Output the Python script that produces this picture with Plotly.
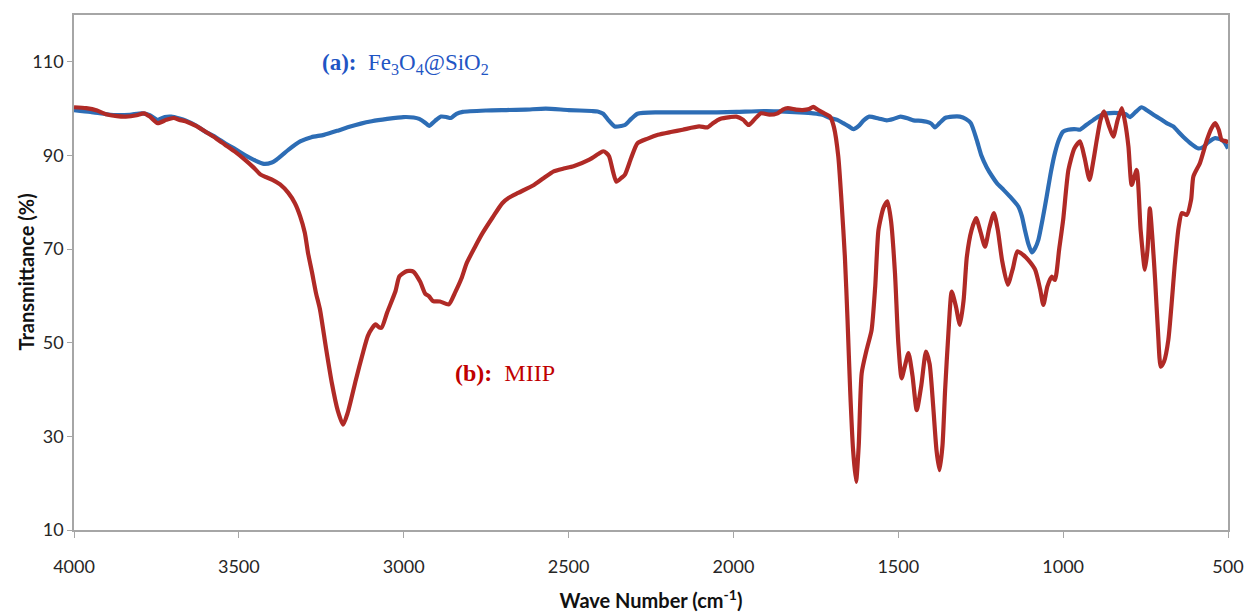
import plotly.graph_objects as go

# FT-IR spectra: wavenumber (cm^-1) and transmittance (%)
wn_a = [4000, 3950, 3900, 3867, 3830, 3794, 3770, 3746, 3725, 3705, 3680, 3662, 3630, 3602,
        3570, 3542, 3510, 3482, 3450, 3424, 3400, 3386, 3350, 3314, 3280, 3242, 3200, 3170,
        3130, 3097, 3050, 3001, 2970, 2953, 2935, 2923, 2905, 2887, 2870, 2857, 2840, 2821,
        2750, 2689, 2630, 2569, 2500, 2430, 2412, 2395, 2380, 2360, 2340, 2329, 2310, 2291,
        2229, 2150, 2050, 1991, 1900, 1859, 1800, 1758, 1730, 1707, 1685, 1667, 1650, 1636,
        1620, 1605, 1588, 1560, 1535, 1515, 1493, 1470, 1454, 1430, 1414, 1400, 1389, 1375,
        1358, 1335, 1313, 1295, 1280, 1262, 1248, 1232, 1215, 1201, 1180, 1161, 1136, 1125,
        1116, 1105, 1095, 1085, 1075, 1062, 1050, 1037, 1025, 1012, 1000, 985, 960, 949,
        930, 908, 888, 868, 845, 822, 810, 797, 780, 762, 745, 726, 705, 686, 666, 650,
        636, 612, 590, 575, 560, 539, 519, 510, 500]
t_a = [99.7, 99.3, 98.8, 98.6, 98.7, 99.0, 98.6, 97.6, 98.2, 98.3, 97.9, 97.5, 96.4, 95.1,
       93.9, 92.6, 91.3, 90.1, 88.9, 88.2, 88.5, 89.1, 91.2, 93.0, 93.9, 94.4, 95.3, 96.0,
       96.8, 97.3, 97.8, 98.2, 98.1, 97.8, 97.0, 96.3, 97.4, 98.3, 98.2, 98.0, 98.9, 99.3,
       99.6, 99.7, 99.8, 100.0, 99.7, 99.5, 99.4, 98.9, 97.6, 96.2, 96.3, 96.5, 97.8, 98.9,
       99.2, 99.2, 99.2, 99.3, 99.5, 99.4, 99.2, 99.0, 98.7, 98.0, 97.6, 96.9, 96.2, 95.6,
       96.3, 97.5, 98.3, 97.9, 97.5, 97.8, 98.3, 97.9, 97.5, 97.4, 97.2, 96.8, 96.0, 96.9,
       98.0, 98.3, 98.3, 97.8, 96.9, 93.3, 90.0, 87.5, 85.5, 84.1, 82.6, 81.2, 79.1, 77.0,
       74.1, 71.0, 69.3, 70.2, 72.0, 76.5, 81.2, 86.5, 90.5, 93.5, 95.1, 95.5, 95.6, 95.5,
       96.5, 97.6, 98.5, 99.0, 99.1, 99.0, 98.8, 98.2, 99.3, 100.3, 99.6, 98.7, 97.8, 96.9,
       96.2, 95.0, 94.0, 92.5, 91.5, 91.8, 92.8, 93.7, 93.3, 92.7, 91.5]

wn_b = [4000, 3963, 3930, 3903, 3870, 3843, 3810, 3788, 3770, 3746, 3720, 3698, 3680, 3662,
        3630, 3602, 3570, 3542, 3510, 3482, 3455, 3434, 3415, 3398, 3375, 3350, 3330, 3314,
        3300, 3290, 3278, 3266, 3254, 3236, 3218, 3200, 3184, 3170, 3145, 3125, 3109, 3095,
        3085, 3075, 3067, 3050, 3025, 3013, 2990, 2971, 2950, 2935, 2923, 2911, 2890, 2863,
        2845, 2825, 2809, 2785, 2761, 2730, 2701, 2680, 2653, 2605, 2575, 2545, 2515, 2485,
        2437, 2410, 2395, 2385, 2377, 2365, 2355, 2340, 2329, 2310, 2291, 2260, 2229, 2190,
        2154, 2104, 2079, 2060, 2041, 2010, 1991, 1970, 1954, 1935, 1916, 1891, 1866, 1850,
        1835, 1810, 1791, 1770, 1758, 1745, 1730, 1707, 1695, 1682, 1672, 1662, 1654, 1646,
        1637, 1628, 1620, 1611, 1596, 1581, 1570, 1560, 1545, 1533, 1522, 1510, 1500, 1490,
        1480, 1469, 1457, 1444, 1430, 1416, 1405, 1394, 1384, 1375, 1366, 1358, 1348, 1338,
        1326, 1313, 1302, 1292, 1278, 1264, 1250, 1237, 1224, 1210, 1198, 1185, 1168, 1152,
        1139, 1122, 1106, 1085, 1070, 1060, 1048, 1035, 1025, 1012, 1000, 984, 966, 949,
        935, 920, 908, 898, 887, 876, 862, 848, 835, 822, 812, 802, 792, 777, 765, 752,
        744, 737, 729, 721, 712, 704, 694, 681, 661, 650, 640, 625, 612, 605, 585, 564,
        550, 539, 528, 519, 504, 500]
t_b = [100.3, 100.1, 99.6, 98.8, 98.4, 98.3, 98.6, 99.0, 98.3, 96.9, 97.6, 98.0, 97.6, 97.3,
       96.3, 95.1, 93.7, 92.3, 90.7, 89.1, 87.4, 85.9, 85.3, 84.8, 83.8, 82.0, 79.8, 77.0,
       73.5, 69.1, 65.0, 60.6, 57.1, 49.0, 41.4, 35.5, 32.5, 35.0, 42.1, 47.5, 51.4, 53.2,
       53.9, 53.3, 53.2, 56.5, 61.0, 64.2, 65.3, 65.2, 63.0, 60.5, 59.9, 58.9, 58.8, 58.2,
       60.6, 63.7, 67.0, 70.3, 73.4, 76.8, 79.8, 81.0, 82.0, 83.7, 85.2, 86.6, 87.2, 87.7,
       89.1, 90.3, 90.9, 90.5, 89.8, 86.5, 84.4, 85.2, 85.9, 89.5, 92.6, 93.6, 94.4, 95.0,
       95.5, 96.2, 96.0, 97.0, 97.8, 98.2, 98.3, 97.6, 96.5, 97.8, 99.0, 98.7, 99.0, 99.8,
       100.1, 99.8, 99.7, 99.9, 100.4, 99.8, 99.2, 98.3, 96.0, 89.8, 80.0, 68.4, 55.0, 39.9,
       27.0, 20.3, 28.0, 43.5, 48.5, 52.7, 62.0, 74.1, 78.8, 80.2, 76.0, 64.8, 50.0, 42.4,
       45.0, 47.8, 43.0, 35.6, 41.0, 48.1, 45.5, 36.3, 27.0, 22.8, 28.0, 39.9, 52.0, 60.9,
       58.0, 53.8, 59.0, 68.4, 74.0, 76.6, 73.5, 70.5, 74.5, 77.7, 74.0, 67.5, 62.4, 66.0,
       69.5, 68.8, 67.7, 65.6, 61.5, 58.1, 62.0, 64.1, 63.4, 70.0, 76.2, 86.9, 91.5, 93.0,
       89.5, 84.8, 89.0, 93.3, 97.5, 99.4, 96.5, 94.0, 97.5, 100.1, 97.0, 91.9, 83.7, 86.9, 74.1, 65.6,
       70.0, 78.7, 72.0, 63.4, 52.0, 44.9, 46.0, 50.6, 67.0, 74.5, 77.7, 77.3, 80.5, 85.5, 88.4, 93.3,
       95.8, 96.9, 95.5, 93.3, 93.0, 92.6]

x_ticks = [4000, 3500, 3000, 2500, 2000, 1500, 1000, 500]
y_ticks = [10, 30, 50, 70, 90, 110]

BLUE = "#2d6db5"
RED = "#b02a26"
AXIS = "#a6a6a6"

fig = go.Figure()
fig.add_trace(go.Scatter(x=wn_a, y=t_a, mode="lines", name="Fe3O4@SiO2",
                         line=dict(color=BLUE, width=4.2, shape="spline", smoothing=0.6)))
fig.add_trace(go.Scatter(x=wn_b, y=t_b, mode="lines", name="MIIP",
                         line=dict(color=RED, width=4.2, shape="spline", smoothing=0.6)))

fig.add_annotation(x=3254, y=109.6, xref="x", yref="y", xanchor="left", yanchor="middle",
                   text="<b>(a):</b>  Fe<sub>3</sub>O<sub>4</sub>@SiO<sub>2</sub>",
                   showarrow=False,
                   font=dict(family="Liberation Serif", size=23, color="#1f55c4"))
fig.add_annotation(x=2850, y=43.6, xref="x", yref="y", xanchor="left", yanchor="middle",
                   text="<b>(b):</b>  MIIP", showarrow=False,
                   font=dict(family="Liberation Serif", size=24, color="#c00000"))

# vertical axis title placed beside the tick labels
fig.add_annotation(x=0, y=0.5, xref="paper", yref="paper", xanchor="center", yanchor="middle",
                   xshift=-49, textangle=-90, showarrow=False,
                   text="<b>Transmittance (%)</b>", font=dict(family="Lato", size=20, color="#111111"))

fig.update_layout(
    width=1244, height=612,
    margin=dict(l=74, r=16, t=15, b=82),
    paper_bgcolor="white", plot_bgcolor="white",
    showlegend=False,
    font=dict(family="Lato", color="#262626"),
)
fig.update_xaxes(
    range=[4000, 500], tickvals=x_ticks, ticks="outside", ticklen=6, tickcolor=AXIS,
    showline=True, linecolor=AXIS, linewidth=1.5, mirror=True, showgrid=False, zeroline=False,
    automargin=False,
    tickfont=dict(size=18, color="#262626"), ticklabelstandoff=14,
    title=dict(text="<b>Wave Number (cm<sup>-1</sup>)</b>", font=dict(size=20, color="#111111"),
               standoff=18),
)
fig.update_yaxes(
    range=[10, 120], tickvals=y_ticks, ticks="outside", ticklen=5, tickcolor=AXIS,
    showline=True, linecolor=AXIS, linewidth=1.5, mirror=True, showgrid=False, zeroline=False,
    automargin=False,
    tickfont=dict(size=18, color="#262626"),
)

fig.write_html("out.html")
